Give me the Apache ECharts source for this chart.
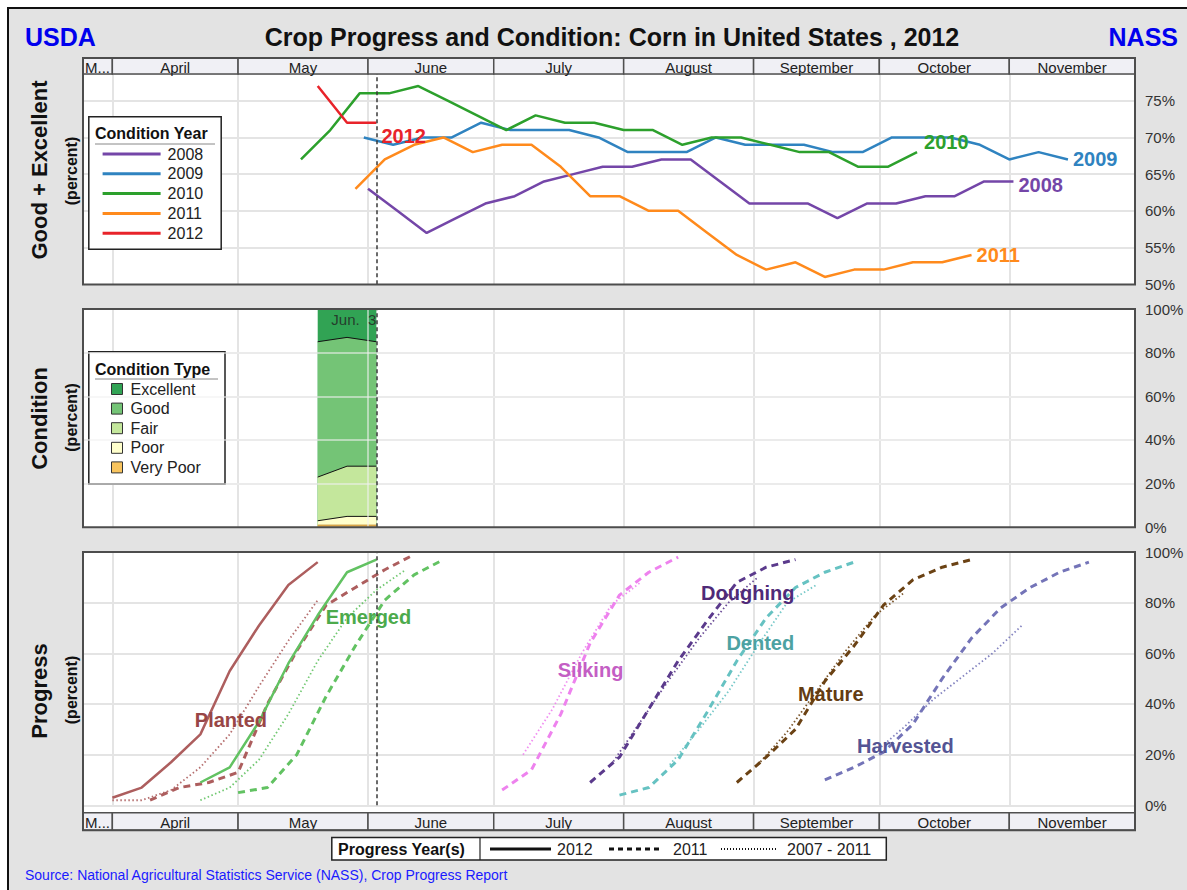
<!DOCTYPE html>
<html>
<head>
<meta charset="utf-8">
<script src="https://cdn.jsdelivr.net/npm/echarts@6.0.0/dist/echarts.min.js"></script>
<style>
html,body{margin:0;padding:0;background:#ffffff;}
#chart{width:1187px;height:890px;}
</style>
</head>
<body>
<div id="chart"></div>
<script>
// ===================== DATA =====================
const chartTitle = 'Crop Progress and Condition: Corn in United States , 2012';
const leftBrand = 'USDA';
const rightBrand = 'NASS';
const sourceText = 'Source: National Agricultural Statistics Service (NASS), Crop Progress Report';

// time axis: [month, day] placed on the 2012 calendar
const axisStart = [3, 25];
const axisEnd = [12, 1];
const monthNames = ['March', 'April', 'May', 'June', 'July', 'August', 'September', 'October', 'November'];
const monthStarts = [[3,1],[4,1],[5,1],[6,1],[7,1],[8,1],[9,1],[10,1],[11,1]];
const monthEnds = [[4,1],[5,1],[6,1],[7,1],[8,1],[9,1],[10,1],[11,1],[12,1]];
const reportDate = [6, 3];
const reportLabel = 'Jun.  3';

// Good + Excellent (percent), weekly from the first week-ending date
const condYears = ['2008', '2009', '2010', '2011', '2012'];
const condStarts = [[6,1], [5,31], [5,16], [5,29], [5,20]];
const ge2008 = [63, 60, 57, 59, 61, 62, 64, 65, 66, 66, 67, 67, 64, 61, 61, 61, 59, 61, 61, 62, 62, 64, 64];
const ge2009 = [70, 69, 70, 70, 72, 71, 71, 71, 70, 68, 68, 68, 70, 69, 69, 69, 68, 68, 70, 70, 70, 69, 67, 68, 67];
const ge2010 = [67, 71, 76, 76, 77, 75, 73, 71, 73, 72, 72, 71, 71, 69, 70, 70, 69, 68, 68, 66, 66, 68];
const ge2011 = [63, 67, 69, 70, 68, 69, 69, 66, 62, 62, 60, 60, 57, 54, 52, 53, 51, 52, 52, 53, 53, 54];
const ge2012 = [77, 72, 72];
const geTicks = [50, 55, 60, 65, 70, 75];

// Condition 2012 (percent)
const condTypeNames = ['Excellent', 'Good', 'Fair', 'Poor', 'Very Poor'];
const condDates = [[5,20], [5,27], [6,3]];
const condExcellent = [15, 13, 15];
const condGood = [62, 59, 57];
const condFair = [20, 23, 23];
const condPoor = [2, 4, 4];
const condVeryPoor = [1, 1, 1];
const pctTicks = [0, 20, 40, 60, 80, 100];

// Progress (percent), weekly from the first week-ending date
const stageNames = ['Planted', 'Emerged', 'Silking', 'Doughing', 'Dented', 'Mature', 'Harvested'];
const progressYears = ['2012', '2011', '2007 - 2011'];
const planted2012Start = [4,1];   const planted2012 = [3, 7, 17, 28, 53, 71, 87, 96];
const planted2011Start = [4,10];  const planted2011 = [2, 7, 9, 13, 40, 61, 79, 86, 93, 99];
const plantedAvgStart = [4,1];    const plantedAvg = [2, 2, 6, 15, 28, 47, 65, 81];
const emerged2012Start = [4,22];  const emerged2012 = [9, 15, 33, 56, 75, 92, 97];
const emerged2011Start = [5,1];   const emerged2011 = [5, 7, 20, 43, 63, 81, 91, 97];
const emergedAvgStart = [4,22];   const emergedAvg = [2, 7, 18, 36, 57, 74, 85, 93];
const silking2011Start = [7,3];   const silking2011 = [6, 14, 36, 64, 83, 92, 98];
const silkingAvgStart = [7,8];    const silkingAvg = [20, 38, 60, 79, 88];
const doughing2011Start = [7,24]; const doughing2011 = [9, 19, 38, 57, 73, 88, 94, 97];
const doughingAvgStart = [7,29];  const doughingAvg = [16, 33, 50, 66, 80, 90];
const dented2011Start = [7,31];   const dented2011 = [4, 7, 18, 37, 57, 74, 86, 92, 96];
const dentedAvgStart = [8,12];    const dentedAvg = [16, 30, 45, 63, 80, 87];
const mature2011Start = [8,28];   const mature2011 = [9, 19, 30, 49, 63, 79, 89, 94, 97];
const matureAvgStart = [9,2];     const matureAvg = [16, 29, 45, 61, 75, 84];
const harvested2011Start = [9,18];const harvested2011 = [10, 15, 21, 32, 50, 66, 78, 86, 92, 96];
const harvestedAvgStart = [9,30]; const harvestedAvg = [21, 31, 42, 51, 60, 71];

// ===================== HELPERS =====================
function doy(md) { return Math.round((Date.UTC(2012, md[0] - 1, md[1]) - Date.UTC(2012, 0, 1)) / 86400000); }
function weekly(start, vals) { const s = doy(start); return vals.map((v, i) => [s + 7 * i, v]); }
const xMin = doy(axisStart), xMax = doy(axisEnd);
const FONT = '"Liberation Sans", Arial, sans-serif';

// ===================== STYLE / LAYOUT =====================
const yearColors = ['#7446a8', '#2f83c0', '#2ca02c', '#ff8a1c', '#e8232a'];
const endOffsets = [[0, 4], [0, 0], [2, -10], [0, 0], [0, 13]];
const condColors = ['#31a354', '#74c476', '#c4e79c', '#ffffcc', '#f8c45e'];
const stageColors = ['#ad5e5e', '#62c262', '#ee82ee', '#5b3a8c', '#66c2c2', '#6b4214', '#7474b8'];
const stageLabelColors = ['#984646', '#4caa4c', '#c45ec4', '#4f2a78', '#4da2a2', '#633c12', '#545494'];
const stageLabelAt = [[119.3, 33.7], [152.1, 74.2], [205.1, 53.6], [242.6, 84.0], [245.6, 63.9], [262.4, 44.1], [280.2, 23.6]];

const G0 = {left: 83, top: 74, width: 1052, height: 210.3};
const G1 = {left: 83, top: 309, width: 1052, height: 218.3};
const G2 = {left: 83, top: 552, width: 1052, height: 253.3};
const G3 = {left: 83, top: 58, width: 1052, height: 16};
const G4 = {left: 83, top: 812.7, width: 1052, height: 17.5};
const geMax = 50 + G0.height / 7.344;

const stageData = [
  [[planted2012Start, planted2012], [planted2011Start, planted2011], [plantedAvgStart, plantedAvg]],
  [[emerged2012Start, emerged2012], [emerged2011Start, emerged2011], [emergedAvgStart, emergedAvg]],
  [null, [silking2011Start, silking2011], [silkingAvgStart, silkingAvg]],
  [null, [doughing2011Start, doughing2011], [doughingAvgStart, doughingAvg]],
  [null, [dented2011Start, dented2011], [dentedAvgStart, dentedAvg]],
  [null, [mature2011Start, mature2011], [matureAvgStart, matureAvg]],
  [null, [harvested2011Start, harvested2011], [harvestedAvgStart, harvestedAvg]]
];
const yearLineStyles = [
  {type: 'solid', width: 2.5},
  {type: [7, 5], width: 3},
  {type: [1.5, 2.5], width: 1.8}
];

// ===================== SERIES =====================
const series = [];

// month gridlines + report line in each panel
[0, 1, 2].forEach(g => {
  series.push({
    type: 'line', name: 'grid' + g, xAxisIndex: g, yAxisIndex: g, data: [], silent: true,
    markLine: {
      z: 1, silent: true, symbol: ['none', 'none'], label: {show: false}, animation: false,
      lineStyle: {color: '#e4e4e4', width: 2, type: 'solid'},
      data: monthStarts.slice(1).map(m => ({xAxis: doy(m)}))
    }
  });
  series.push({
    type: 'line', name: 'report' + g, xAxisIndex: g, yAxisIndex: g, data: [], silent: true,
    markLine: {
      z: 8, silent: true, symbol: ['none', 'none'], label: {show: false}, animation: false,
      lineStyle: {color: '#3a3a3a', width: 1.5, type: [4, 3]},
      data: [{xAxis: doy(reportDate)}]
    }
  });
});

// Good + Excellent lines
const geAll = [ge2008, ge2009, ge2010, ge2011, ge2012];
condYears.forEach((y, i) => {
  series.push({
    type: 'line', name: y, xAxisIndex: 0, yAxisIndex: 0,
    data: weekly(condStarts[i], geAll[i]),
    symbol: 'none', z: 3,
    lineStyle: {color: yearColors[i], width: 2.5},
    itemStyle: {color: yearColors[i]},
    endLabel: {show: true, formatter: y, color: yearColors[i], fontSize: 20, fontWeight: 'bold', fontFamily: FONT, offset: endOffsets[i], distance: 5}
  });
});

// Condition: cumulative bands drawn from the top band down (painter's order)
const condParts = [condExcellent, condGood, condFair, condPoor, condVeryPoor]; // top -> bottom
condParts.forEach((vals, i) => {
  const cum = condDates.map((d, k) => {
    let s = 0;
    for (let j = i; j < condParts.length; j++) s += condParts[j][k];
    return [doy(d), s];
  });
  series.push({
    type: 'line', name: condTypeNames[i], xAxisIndex: 1, yAxisIndex: 1,
    data: cum, symbol: 'none', z: 2,
    lineStyle: {color: i === 4 ? '#c8923a' : '#111', width: i === 0 ? 0 : 1},
    areaStyle: {color: condColors[i], opacity: 1, origin: 'start'},
    itemStyle: {color: condColors[i]}
  });
});
// light gridlines shown over the condition bands
series.push({
  type: 'line', name: 'gridOver', xAxisIndex: 1, yAxisIndex: 1, data: [], silent: true,
  markLine: {
    z: 3, silent: true, symbol: ['none', 'none'], label: {show: false}, animation: false,
    lineStyle: {color: 'rgba(240,240,240,0.55)', width: 2, type: 'solid'},
    data: pctTicks.slice(1, -1).map(v => ({yAxis: v})).concat([{xAxis: doy(monthStarts[3])}])
  }
});
series.push({
  type: 'scatter', name: 'reportLabel', xAxisIndex: 1, yAxisIndex: 1, z: 9, silent: true,
  symbolSize: 0, data: [[doy(reportDate), 95]],
  label: {show: true, position: 'left', distance: 0, formatter: reportLabel, fontSize: 15, color: '#222', fontFamily: FONT}
});

// Progress lines
stageData.forEach((list, s) => {
  list.forEach((entry, k) => {
    if (!entry) return;
    series.push({
      type: 'line', name: stageNames[s] + ' ' + progressYears[k], xAxisIndex: 2, yAxisIndex: 2,
      data: weekly(entry[0], entry[1]), symbol: 'none', z: 3,
      lineStyle: {color: stageColors[s], width: yearLineStyles[k].width, type: yearLineStyles[k].type, opacity: k === 2 ? 0.9 : 1},
      itemStyle: {color: stageColors[s]}
    });
  });
});
series.push({
  type: 'scatter', name: 'stageLabels', xAxisIndex: 2, yAxisIndex: 2, z: 6, silent: true, symbolSize: 0,
  itemStyle: {opacity: 1},
  data: stageNames.map((n, i) => ({name: n, value: stageLabelAt[i], label: {color: stageLabelColors[i]}})),
  label: {show: true, position: 'inside', formatter: '{b}', fontSize: 20, fontWeight: 'bold', fontFamily: FONT,
    textBorderWidth: 0, opacity: 1}
});

// month strips
function stripItem(params, api) {
  const a = api.coord([api.value(0), 0]);
  const b = api.coord([api.value(1), 1]);
  const x0 = a[0], x1 = b[0], yb = a[1], yt = b[1];
  const w = x1 - x0;
  const first = params.dataIndex === 0;
  return {type: 'group', children: [
    {type: 'rect', shape: {x: x0, y: yt, width: w, height: yb - yt}, style: {fill: '#f0f0f5', stroke: '#505050', lineWidth: 1.5}},
    {type: 'text', style: {text: monthNames[api.value(2)], x: first ? x0 + 2 : x0 + w / 2, y: (yt + yb) / 2 + 1,
      align: first ? 'left' : 'center', verticalAlign: 'middle', fontSize: 15, fontFamily: FONT, fill: '#222',
      width: w - 3, overflow: 'truncate', ellipsis: '...'}}
  ]};
}
const stripData = monthNames.map((n, i) => [Math.max(doy(monthStarts[i]), xMin), doy(monthEnds[i]), i]);
[3, 4].forEach(g => {
  series.push({type: 'custom', name: 'strip' + g, xAxisIndex: g, yAxisIndex: g, renderItem: stripItem, data: stripData, silent: true, z: 4, clip: false});
});

// ===================== AXES =====================
const xAxes = [0, 1, 2, 3, 4].map(g => ({
  type: 'value', gridIndex: g, min: xMin, max: xMax, show: false, splitLine: {show: false}
}));
function pctAxis(g, min, max, interval, ticks) {
  return {
    type: 'value', gridIndex: g, position: 'right', min: min, max: max, interval: interval,
    axisLine: {show: false}, axisTick: {show: false},
    splitLine: {show: true, lineStyle: {color: '#e4e4e4', width: 2}},
    axisLabel: {margin: 10, fontSize: 15, color: '#333', fontFamily: FONT,
      formatter: v => ticks.some(t => Math.abs(t - v) < 1e-6) ? Math.round(v) + '%' : ''}
  };
}
const yAxes = [
  pctAxis(0, 50, geMax, 5, geTicks),
  pctAxis(1, 0, 100, 20, pctTicks),
  pctAxis(2, 0, 100, 20, pctTicks),
  {type: 'value', gridIndex: 3, min: 0, max: 1, show: false, splitLine: {show: false}},
  {type: 'value', gridIndex: 4, min: 0, max: 1, show: false, splitLine: {show: false}}
];

// ===================== GRAPHIC =====================
function txt(text, x, y, opts) {
  return Object.assign({type: 'text', x: x, y: y, z: 60, silent: true,
    style: Object.assign({text: text, fontFamily: FONT, fill: '#111', align: 'left', verticalAlign: 'middle'}, opts.style || {})},
    opts.rotation ? {rotation: opts.rotation} : {});
}
function box(x, y, w, h, z, fill, stroke, lw) {
  return {type: 'rect', z: z, silent: true, shape: {x: x, y: y, width: w, height: h},
    style: {fill: fill, stroke: stroke, lineWidth: lw}};
}
function seg(x1, y1, x2, y2, z, stroke, lw, dash) {
  return {type: 'line', z: z, silent: true, shape: {x1: x1, y1: y1, x2: x2, y2: y2},
    style: {stroke: stroke, lineWidth: lw, lineDash: dash || null}};
}
const R = Math.PI / 2;
const graphic = [
  box(8, 8, 1200, 900, -20, '#e3e3e3', '#111', 2),
  box(83, 58, 1052, 226.5, -10, '#ffffff', null, 0),
  box(83, 309, 1052, 218.3, -10, '#ffffff', null, 0),
  box(83, 552, 1052, 278.2, -10, '#ffffff', null, 0),
  box(83, 58, 1052, 226.5, 50, 'transparent', '#4d4d4d', 2),
  box(83, 309, 1052, 218.3, 50, 'transparent', '#4d4d4d', 2),
  box(83, 552, 1052, 278.2, 50, 'transparent', '#4d4d4d', 2),
  txt(leftBrand, 25, 37, {style: {fontSize: 25, fontWeight: 'bold', fill: '#0000ee'}}),
  txt(rightBrand, 1178, 37, {style: {fontSize: 25, fontWeight: 'bold', fill: '#0000ee', align: 'right'}}),
  txt(chartTitle, 612, 37, {style: {fontSize: 25, fontWeight: 'bold', fill: '#111', align: 'center'}}),
  txt('Good + Excellent', 39.5, 170, {rotation: R, style: {fontSize: 22, fontWeight: 'bold', align: 'center'}}),
  txt('(percent)', 71, 171, {rotation: R, style: {fontSize: 16, fontWeight: 'bold', align: 'center'}}),
  txt('Condition', 39.5, 418.5, {rotation: R, style: {fontSize: 22, fontWeight: 'bold', align: 'center'}}),
  txt('(percent)', 71, 417.5, {rotation: R, style: {fontSize: 16, fontWeight: 'bold', align: 'center'}}),
  txt('Progress', 39.5, 691, {rotation: R, style: {fontSize: 22, fontWeight: 'bold', align: 'center'}}),
  txt('(percent)', 71, 690, {rotation: R, style: {fontSize: 16, fontWeight: 'bold', align: 'center'}}),
  // Condition Year legend frame
  box(88.8, 116.7, 132.4, 132.6, 3, '#ffffff', '#222', 1.5),
  txt('Condition Year', 95, 133.3, {style: {fontSize: 16, fontWeight: 'bold'}}),
  seg(95, 144, 215, 144, 60, '#888', 1),
  // Condition Type legend frame
  box(88.8, 351.7, 136.2, 132.3, 3, '#ffffff', '#222', 1.5),
  txt('Condition Type', 95, 369, {style: {fontSize: 16, fontWeight: 'bold'}}),
  seg(95, 379, 218, 379, 60, '#888', 1),
  // Progress Year(s) legend
  box(331.8, 837.5, 554.5, 22.5, 3, '#ffffff', '#222', 1.5),
  seg(480, 837.5, 480, 860, 60, '#222', 1.2),
  txt('Progress Year(s)', 338, 849, {style: {fontSize: 16, fontWeight: 'bold'}}),
  seg(490, 849, 551, 849, 60, '#111', 3),
  txt(progressYears[0], 557, 849, {style: {fontSize: 16, fill: '#222'}}),
  seg(609, 849, 660, 849, 60, '#111', 3, [5, 4]),
  txt(progressYears[1], 673, 849, {style: {fontSize: 16, fill: '#222'}}),
  seg(721, 849, 778, 849, 60, '#111', 2, [1, 2]),
  txt(progressYears[2], 787, 849, {style: {fontSize: 16, fill: '#222'}}),
  txt(sourceText, 25, 875, {style: {fontSize: 14, fill: '#1a1aff'}})
];

// ===================== OPTION =====================
const option = {
  animation: false,
  textStyle: {fontFamily: FONT},
  grid: [G0, G1, G2, G3, G4].map(g => Object.assign({containLabel: false, show: false}, g)),
  xAxis: xAxes,
  yAxis: yAxes,
  legend: [
    {
      data: condYears, orient: 'vertical', left: 102.6, top: 146, padding: 0,
      itemWidth: 58, itemHeight: 3, itemGap: 3.8, icon: 'rect', selectedMode: false, z: 5,
      textStyle: {fontSize: 16, lineHeight: 16, color: '#222', fontFamily: FONT, padding: [0, 0, 0, 2]}
    },
    {
      data: condTypeNames.map((n, i) => ({name: n, itemStyle: {color: condColors[i], borderColor: '#333', borderWidth: 1}})),
      orient: 'vertical', left: 111, top: 381, padding: 0,
      itemWidth: 11, itemHeight: 11, itemGap: 3.6, icon: 'rect', selectedMode: false, z: 5,
      textStyle: {fontSize: 16, lineHeight: 16, color: '#222', fontFamily: FONT, padding: [0, 0, 0, 3]}
    }
  ],
  graphic: graphic,
  series: series
};

const chart = echarts.init(document.getElementById('chart'), null, {renderer: 'svg', width: 1187, height: 890});
chart.setOption(option);
</script>
</body>
</html>
